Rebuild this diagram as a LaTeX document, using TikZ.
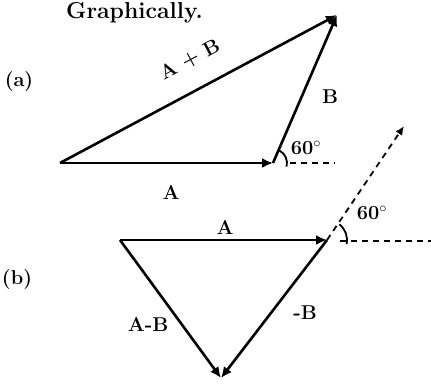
\documentclass[tikz,border=0pt]{standalone}
\usepackage{fontspec}
\usetikzlibrary{arrows.meta}
\begin{document}
\begin{tikzpicture}[x=1pt,y=1pt,
  vec/.style={line width=2.6pt,-{Latex[length=11pt,width=10pt]}},
  dvec/.style={line width=1.8pt,dash pattern=on 6pt off 5pt,-{Latex[length=9pt,width=8pt]}},
  dline/.style={line width=1.8pt,dash pattern=on 6pt off 5pt},
  lbl/.style={font=\fontsize{20}{22}\selectfont\bfseries,inner sep=1pt},
  ang/.style={line width=1.8pt}]
\useasboundingbox (0,0) rectangle (431,384);
\node[anchor=west,font=\fontsize{23}{25}\selectfont\bfseries,inner sep=0pt] (title) at (66,371) {Graphically.};
% (a)
\coordinate (a1) at (60,221);
\coordinate (a2) at (273,221);
\coordinate (a3) at (337,369);
\coordinate (ah1) at (290,221);
\coordinate (ah2) at (335,221);
\draw[vec] (a1) -- (a2);
\draw[vec] (a2) -- (a3);
\draw[vec] (a1) -- (a3);
\draw[dline] (ah1) -- (ah2);
\draw[ang] ([shift={(-15:14)}]a2) arc[start angle=-15,end angle=62,radius=14];
\node[lbl] (la) at (19,302) {(a)};
\node[lbl,rotate=28] (lapb) at (190,324) {A + B};
\node[lbl] (lb) at (330,287) {B};
\node[lbl] (l60a) at (306,236) {60$^\circ$};
\node[lbl] (lA) at (171,192) {A};
% (b)
\coordinate (b1) at (120,144);
\coordinate (b2) at (327,144);
\coordinate (b3) at (221,6);
\coordinate (bb) at (404,258);
\coordinate (bh1) at (340,143);
\coordinate (bh2) at (431,143);
\draw[vec] (b1) -- (b2);
\draw[vec] (b2) -- (b3);
\draw[vec] (b1) -- (b3);
\draw[dvec] (b2) -- (bb);
\draw[dline] (bh1) -- (bh2);
\draw[ang] ([shift={(-12:20)}]b2) arc[start angle=-12,end angle=52,radius=20];
\node[lbl] (lb2) at (17,104) {(b)};
\node[lbl] (lA2) at (225,157) {A};
\node[lbl] (l60b) at (372,171) {60$^\circ$};
\node[lbl] (lamb) at (148,60) {A-B};
\node[lbl] (lmb) at (305,71) {-B};
\end{tikzpicture}
\end{document}
